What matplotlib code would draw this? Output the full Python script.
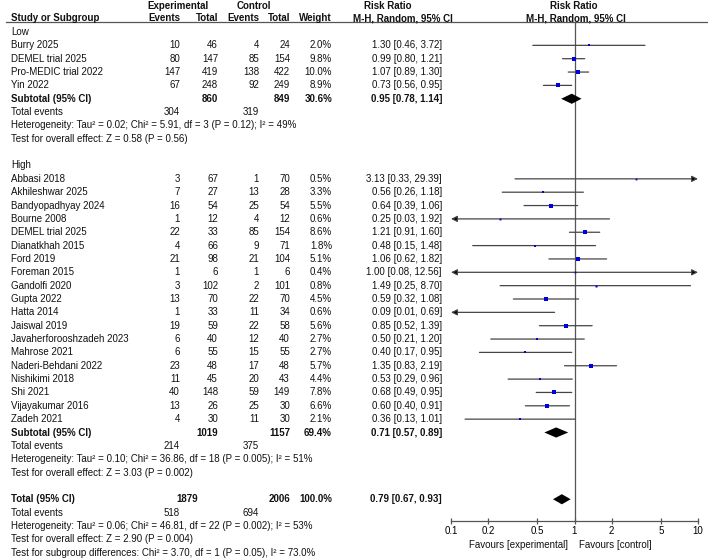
import matplotlib
matplotlib.use('Agg')
import matplotlib.pyplot as plt
from matplotlib.transforms import blended_transform_factory
from matplotlib.lines import Line2D

plt.rcParams['font.family'] = ['Liberation Sans', 'DejaVu Sans']
FS = 7.05
W, H = 708, 559

# ---- data ----
low_names = ['Burry 2025', 'DEMEL trial 2025', 'Pro-MEDIC trial 2022', 'Yin 2022']
low_exp_ev = [10, 80, 147, 67]
low_exp_tot = [46, 147, 419, 248]
low_ctl_ev = [4, 85, 138, 92]
low_ctl_tot = [24, 154, 422, 249]
low_weight = [2.0, 9.8, 10.0, 8.9]
low_rr = [1.30, 0.99, 1.07, 0.73]
low_lo = [0.46, 0.80, 0.89, 0.56]
low_hi = [3.72, 1.21, 1.30, 0.95]

high_names = ['Abbasi 2018', 'Akhileshwar 2025', 'Bandyopadhyay 2024', 'Bourne 2008',
              'DEMEL trial 2025', 'Dianatkhah 2015', 'Ford 2019', 'Foreman 2015',
              'Gandolfi 2020', 'Gupta 2022', 'Hatta 2014', 'Jaiswal 2019',
              'Javaherforooshzadeh 2023', 'Mahrose 2021', 'Naderi-Behdani 2022',
              'Nishikimi 2018', 'Shi 2021', 'Vijayakumar 2016', 'Zadeh 2021']
high_exp_ev = [3, 7, 16, 1, 22, 4, 21, 1, 3, 13, 1, 19, 6, 6, 23, 11, 40, 13, 4]
high_exp_tot = [67, 27, 54, 12, 33, 66, 98, 6, 102, 70, 33, 59, 40, 55, 48, 45, 148, 26, 30]
high_ctl_ev = [1, 13, 25, 4, 85, 9, 21, 1, 2, 22, 11, 22, 12, 15, 17, 20, 59, 25, 11]
high_ctl_tot = [70, 28, 54, 12, 154, 71, 104, 6, 101, 70, 34, 58, 40, 55, 48, 43, 149, 30, 30]
high_weight = [0.5, 3.3, 5.5, 0.6, 8.6, 1.8, 5.1, 0.4, 0.8, 4.5, 0.6, 5.6, 2.7, 2.7, 5.7, 4.4, 7.8, 6.6, 2.1]
high_rr = [3.13, 0.56, 0.64, 0.25, 1.21, 0.48, 1.06, 1.00, 1.49, 0.59, 0.09, 0.85, 0.50, 0.40, 1.35, 0.53, 0.68, 0.60, 0.36]
high_lo = [0.33, 0.26, 0.39, 0.03, 0.91, 0.15, 0.62, 0.08, 0.25, 0.32, 0.01, 0.52, 0.21, 0.17, 0.83, 0.29, 0.49, 0.40, 0.13]
high_hi = [29.39, 1.18, 1.06, 1.92, 1.60, 1.48, 1.82, 12.56, 8.70, 1.08, 0.69, 1.39, 1.20, 0.95, 2.19, 0.96, 0.95, 0.91, 1.01]

sub_low = dict(exp_tot=860, ctl_tot=849, weight='30.6%', rr=0.95, lo=0.78, hi=1.14,
               exp_ev=304, ctl_ev=319,
               het='Heterogeneity: Tau\u00b2 = 0.02; Chi\u00b2 = 5.91, df = 3 (P = 0.12); I\u00b2 = 49%',
               test='Test for overall effect: Z = 0.58 (P = 0.56)')
sub_high = dict(exp_tot=1019, ctl_tot=1157, weight='69.4%', rr=0.71, lo=0.57, hi=0.89,
                exp_ev=214, ctl_ev=375,
                het='Heterogeneity: Tau\u00b2 = 0.10; Chi\u00b2 = 36.86, df = 18 (P = 0.005); I\u00b2 = 51%',
                test='Test for overall effect: Z = 3.03 (P = 0.002)')
total = dict(exp_tot=1879, ctl_tot=2006, weight='100.0%', rr=0.79, lo=0.67, hi=0.93,
             exp_ev=518, ctl_ev=694,
             het='Heterogeneity: Tau\u00b2 = 0.06; Chi\u00b2 = 46.81, df = 22 (P = 0.002); I\u00b2 = 53%',
             test='Test for overall effect: Z = 2.90 (P = 0.004)',
             subgroup='Test for subgroup differences: Chi\u00b2 = 3.70, df = 1 (P = 0.05), I\u00b2 = 73.0%')

ticks = [0.1, 0.2, 0.5, 1, 2, 5, 10]
tick_labels = ['0.1', '0.2', '0.5', '1', '2', '5', '10']

# ---- layout ----
y0, dy = 32.0, 13.35


def row_of(py):
    return (py - y0) / dy


fig = plt.figure(figsize=(W / 100, H / 100), dpi=100)
ax = fig.add_axes([451 / W, 1 - 521 / H, (698 - 451) / W, (521 - 22) / H])
ax.set_xscale('log')
ax.set_xlim(0.1, 10)
ax.set_ylim(row_of(521), row_of(22))
for s in ['top', 'left', 'right']:
    ax.spines[s].set_visible(False)
ax.spines['bottom'].set_color('#555555')
ax.spines['bottom'].set_linewidth(0.9)
ax.set_yticks([])
ax.set_xticks(ticks)
ax.set_xticklabels(tick_labels)
ax.minorticks_off()
ax.tick_params(axis='x', direction='inout', length=5, width=0.9, color='#555555',
               labelsize=FS, pad=1)
ax.axvline(1, color='#555555', lw=0.9)

tr = blended_transform_factory(fig.transFigure, ax.transData)
line_color = '#454545'
sq_color = '#0000dd'


def txt(xpx, r, s, ha='left', bold=False):
    fig.text(xpx / W, r, s, ha=ha, va='center', fontsize=FS, transform=tr,
             fontweight='bold' if bold else 'normal', color='#111111')


# header
hr1, hr2 = row_of(6), row_of(18.3)
txt(178, hr1, 'Experimental', ha='center', bold=True)
txt(254, hr1, 'Control', ha='center', bold=True)
txt(11, hr2, 'Study or Subgroup', bold=True)
txt(180, hr2, 'Events', ha='right', bold=True)
txt(218, hr2, 'Total', ha='right', bold=True)
txt(259, hr2, 'Events', ha='right', bold=True)
txt(290, hr2, 'Total', ha='right', bold=True)
txt(332, hr2, 'Weight', ha='right', bold=True)
txt(388, hr1, 'Risk Ratio', ha='center', bold=True)
txt(403, hr2, 'M-H, Random, 95% CI', ha='center', bold=True)
txt(574, hr1, 'Risk Ratio', ha='center', bold=True)
txt(576, hr2, 'M-H, Random, 95% CI', ha='center', bold=True)
fig.add_artist(Line2D([6 / W, 1], [1, 1], color='#555555', lw=0.9,
                      transform=blended_transform_factory(fig.transFigure, ax.transAxes)))


def study(r, name, ee, et, ce, ct, w, rr, lo, hi):
    txt(11, r, name)
    txt(180, r, str(ee), ha='right')
    txt(218, r, str(et), ha='right')
    txt(259, r, str(ce), ha='right')
    txt(290, r, str(ct), ha='right')
    txt(332, r, f'{w:.1f}%', ha='right')
    txt(442, r, f'{rr:.2f} [{lo:.2f}, {hi:.2f}]', ha='right')
    left_out, right_out = lo < 0.1, hi > 10
    a, b = max(lo, 0.1), min(hi, 10)
    style = {(False, False): '-', (False, True): '-|>', (True, False): '<|-',
             (True, True): '<|-|>'}[(left_out, right_out)]
    ax.annotate('', xy=(b, r), xytext=(a, r),
                arrowprops=dict(arrowstyle=style, ec=line_color, fc='black', lw=0.9,
                                shrinkA=0, shrinkB=0, mutation_scale=9))
    if 0.1 <= rr <= 10:
        ax.plot(rr, r, 's', color=sq_color, ms=0.9 + 0.6 * w ** 0.5, mew=0, zorder=6)


def diamond(r, rr, lo, hi):
    h = 0.38
    ax.fill([lo, rr, hi, rr], [r, r - h, r, r + h], color='black', lw=0, zorder=6)


def group(r, title, names, ee, et, ce, ct, w, rr, lo, hi, sub):
    txt(11, r, title)
    for i in range(len(names)):
        study(r + 1 + i, names[i], ee[i], et[i], ce[i], ct[i], w[i], rr[i], lo[i], hi[i])
    r = r + 1 + len(names)
    txt(11, r, 'Subtotal (95% CI)', bold=True)
    txt(218, r, str(sub['exp_tot']), ha='right', bold=True)
    txt(290, r, str(sub['ctl_tot']), ha='right', bold=True)
    txt(332, r, sub['weight'], ha='right', bold=True)
    txt(442, r, f"{sub['rr']:.2f} [{sub['lo']:.2f}, {sub['hi']:.2f}]", ha='right', bold=True)
    diamond(r, sub['rr'], sub['lo'], sub['hi'])
    txt(11, r + 1, 'Total events')
    txt(180, r + 1, str(sub['exp_ev']), ha='right')
    txt(259, r + 1, str(sub['ctl_ev']), ha='right')
    txt(11, r + 2, sub['het'])
    txt(11, r + 3, sub['test'])
    return r + 5


r = group(0, 'Low', low_names, low_exp_ev, low_exp_tot, low_ctl_ev, low_ctl_tot,
          low_weight, low_rr, low_lo, low_hi, sub_low)
r = group(r, 'High', high_names, high_exp_ev, high_exp_tot, high_ctl_ev, high_ctl_tot,
          high_weight, high_rr, high_lo, high_hi, sub_high)

txt(11, r, 'Total (95% CI)', bold=True)
txt(198, r, str(total['exp_tot']), ha='right', bold=True)
txt(290, r, str(total['ctl_tot']), ha='right', bold=True)
txt(332, r, total['weight'], ha='right', bold=True)
txt(442, r, f"{total['rr']:.2f} [{total['lo']:.2f}, {total['hi']:.2f}]", ha='right', bold=True)
diamond(r, total['rr'], total['lo'], total['hi'])
txt(11, r + 1, 'Total events')
txt(180, r + 1, str(total['exp_ev']), ha='right')
txt(259, r + 1, str(total['ctl_ev']), ha='right')
txt(11, r + 2, total['het'])
txt(11, r + 3, total['test'])
txt(11, r + 4, total['subgroup'])

fig.text(568 / W, 1 - 545 / H, 'Favours [experimental]', ha='right', va='center',
         fontsize=FS, color='#111111')
fig.text(579 / W, 1 - 545 / H, 'Favours [control]', ha='left', va='center',
         fontsize=FS, color='#111111')

fig.savefig('out.png', dpi=100)
